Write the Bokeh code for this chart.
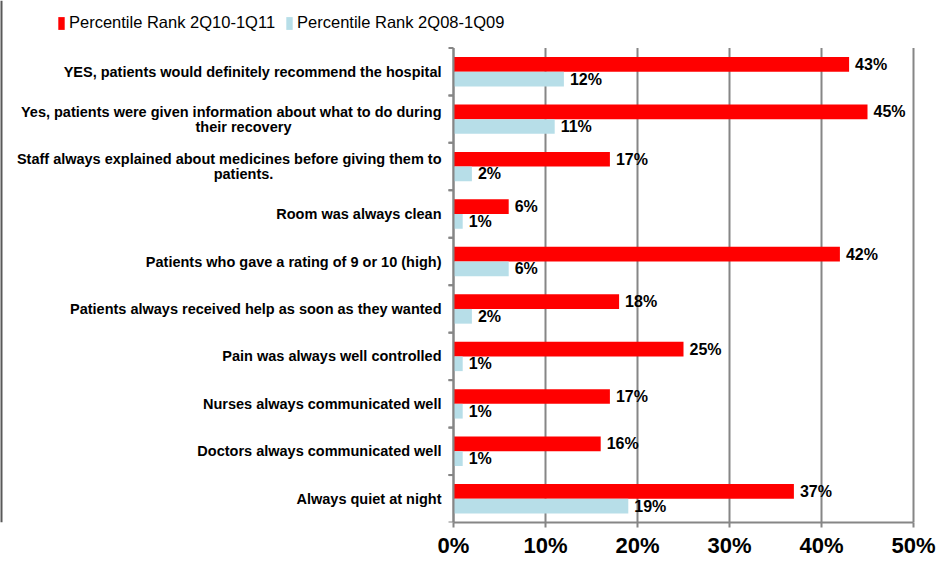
from bokeh.plotting import figure
from bokeh.models import (ColumnDataSource, FactorRange, LabelSet, Legend, LegendItem,
                          NumeralTickFormatter, FixedTicker, Range1d, Span)
from bokeh.transform import dodge
from bokeh.core.properties import value
from bokeh.embed import file_html
from bokeh.resources import INLINE

categories = [
    "YES, patients would definitely recommend the hospital",
    "Yes, patients were given information about what to do during\ntheir recovery",
    "Staff always explained about medicines before giving them to\npatients.",
    "Room was always clean",
    "Patients who gave a rating of 9 or 10 (high)",
    "Patients always received help as soon as they wanted",
    "Pain was always well controlled",
    "Nurses always communicated well",
    "Doctors always communicated well",
    "Always quiet at night",
]
rank_2q10_1q11 = [43, 45, 17, 6, 42, 18, 25, 17, 16, 37]
rank_2q08_1q09 = [12, 11, 2, 1, 6, 2, 1, 1, 1, 19]
series_names = ["Percentile Rank 2Q10-1Q11", "Percentile Rank 2Q08-1Q09"]
x_ticks = [0, 0.1, 0.2, 0.3, 0.4, 0.5]

RED = "#FF0000"
BLUE = "#B7DEE8"
GRAY = "#868686"
FONT = "Liberation Sans"

# layout (pixels)
W, H = 942, 565
X0_PX, X1_PX = 453, 913          # where 0% and 50% sit
BOTTOM_BORDER = 43
PX_PER_UNIT = (X1_PX - X0_PX) / (x_ticks[-1] - x_ticks[0])
TICK_LEN = 5 / PX_PER_UNIT
LABEL_GAP = 12
CHAR_W = 6.6          # approx. average glyph width of the 14.5px bold label font
LINE_SHIFT = 7.5

src = ColumnDataSource(dict(
    cat=categories,
    a=[v / 100 for v in rank_2q10_1q11],
    b=[v / 100 for v in rank_2q08_1q09],
    la=[f"{v}%" for v in rank_2q10_1q11],
    lb=[f"{v}%" for v in rank_2q08_1q09],
    line1=[c.split("\n")[0] for c in categories],
    yoff1=[LINE_SHIFT if "\n" in c else 0 for c in categories],
))
multi = [c for c in categories if "\n" in c]
src2 = ColumnDataSource(dict(
    cat=multi,
    line2=[c.split("\n")[1] for c in multi],
    xoff2=[-(LABEL_GAP + 0.5 * len(c.split("\n")[0]) * CHAR_W) for c in multi],
))

# a blank factor on top keeps room for the legend inside the frame
factors = list(reversed(categories)) + [" "]

p = figure(width=W, height=H, output_backend="svg", toolbar_location=None,
           y_range=FactorRange(factors=factors),
           x_range=Range1d(-X0_PX / PX_PER_UNIT, x_ticks[-1] + (W - X1_PX) / PX_PER_UNIT),
           y_axis_location=None,
           min_border_left=0, min_border_right=0, min_border_top=0,
           min_border_bottom=BOTTOM_BORDER)
p.outline_line_color = None
p.background_fill_color = "white"
p.xgrid.visible = False
p.ygrid.visible = False

# frame edge line on the far left
p.add_layout(Span(location=p.x_range.start, dimension="height",
                  line_color="#595959", line_width=4))

# vertical grid lines, only over the category area
grid_src = ColumnDataSource(dict(x=x_ticks, lo=[categories[-1]] * len(x_ticks),
                                 hi=[categories[0]] * len(x_ticks)))
p.segment(x0="x", x1="x", y0=dodge("lo", -0.5, range=p.y_range),
          y1=dodge("hi", 0.5, range=p.y_range), source=grid_src,
          line_color=GRAY, line_width=2)

r1 = p.hbar(y=dodge("cat", 0.155, range=p.y_range), right="a", left=0, height=0.31,
            source=src, fill_color=RED, line_color=None)
r2 = p.hbar(y=dodge("cat", -0.155, range=p.y_range), right="b", left=0, height=0.31,
            source=src, fill_color=BLUE, line_color=None)

# left axis line and ticks at category boundaries
p.segment(x0=0, x1=0, y0=dodge("cat", -0.5, range=p.y_range),
          y1=dodge("cat", 0.5, range=p.y_range), source=src, line_color=GRAY, line_width=2)
for off in (-0.5, 0.5):
    p.segment(x0=0, x1=-TICK_LEN, y0=dodge("cat", off, range=p.y_range),
              y1=dodge("cat", off, range=p.y_range), source=src,
              line_color=GRAY, line_width=2)

# value labels
for col, lab, off in (("a", "la", 0.155), ("b", "lb", -0.155)):
    p.add_layout(LabelSet(x=col, y=dodge("cat", off, range=p.y_range), text=lab, source=src,
                          x_offset=6, text_baseline="middle", text_align="left",
                          text_font=value(FONT), text_font_style="bold",
                          text_font_size="16px", text_color="black"))

# category labels (first line right-aligned, second line centred under it)
p.add_layout(LabelSet(x=0, y="cat", text="line1", source=src, x_offset=-LABEL_GAP,
                      y_offset="yoff1", text_baseline="middle", text_align="right",
                      text_font=value(FONT), text_font_style="bold",
                      text_font_size="14.5px", text_color="black"))
p.add_layout(LabelSet(x=0, y="cat", text="line2", source=src2, x_offset="xoff2",
                      y_offset=-LINE_SHIFT, text_baseline="middle", text_align="center",
                      text_font=value(FONT), text_font_style="bold",
                      text_font_size="14.5px", text_color="black"))

# x axis
xa = p.xaxis[0]
xa.ticker = FixedTicker(ticks=x_ticks)
xa.bounds = (x_ticks[0], x_ticks[-1])
xa.formatter = NumeralTickFormatter(format="0%")
xa.major_label_text_font = FONT
xa.major_label_text_font_style = "bold"
xa.major_label_text_font_size = "22px"
xa.major_label_text_color = "black"
xa.major_label_standoff = 5
xa.axis_line_color = GRAY
xa.axis_line_width = 2
xa.major_tick_line_color = GRAY
xa.major_tick_line_width = 2
xa.major_tick_out = 5
xa.major_tick_in = 0
xa.minor_tick_line_color = None

legend = Legend(items=[LegendItem(label=series_names[0], renderers=[r1]),
                       LegendItem(label=series_names[1], renderers=[r2])],
                orientation="horizontal", location=(57, 490),
                glyph_width=8, glyph_height=16, label_standoff=4, spacing=10,
                padding=0, margin=0, border_line_color=None, background_fill_alpha=0,
                label_text_font="Liberation Sans", label_text_font_size="16.5px",
                label_text_color="black")
p.add_layout(legend, "center")

open("out.html", "w").write(file_html(p, INLINE))
